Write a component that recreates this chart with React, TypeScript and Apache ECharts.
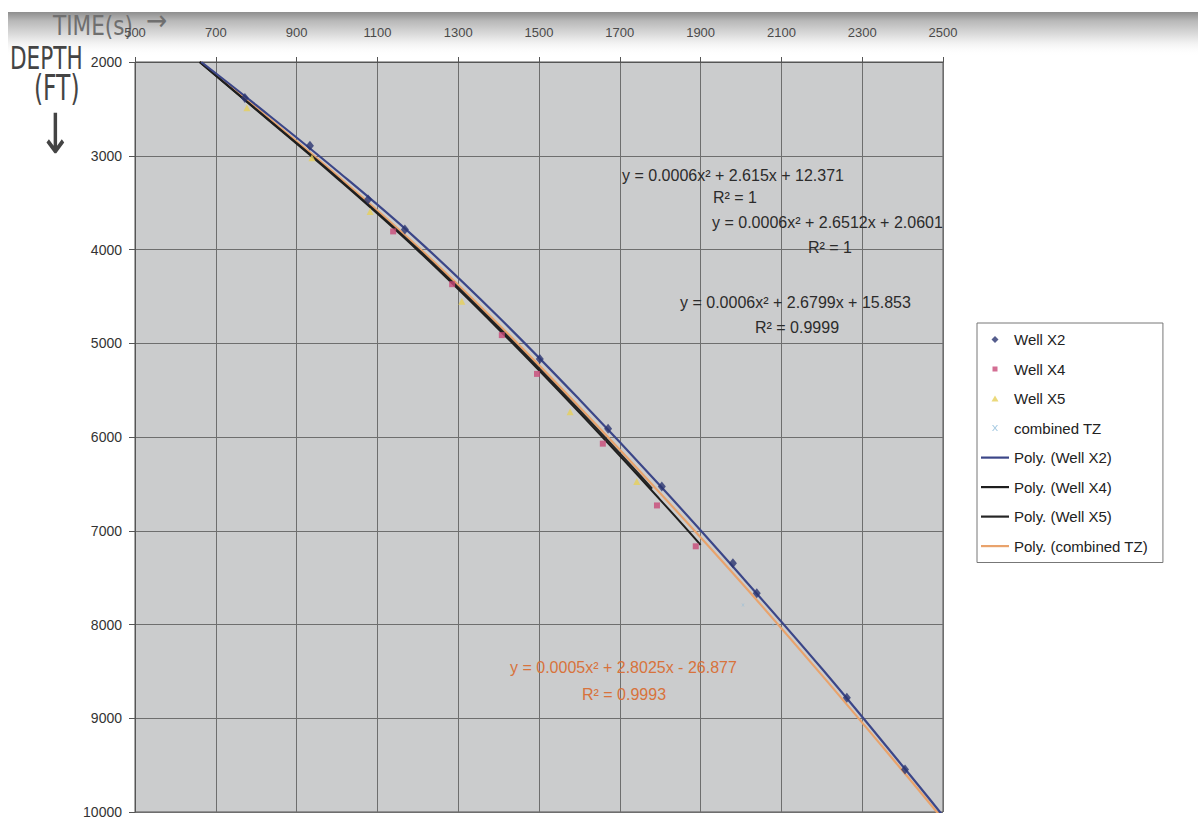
import React, { useEffect, useRef } from "react";
import * as echarts from "echarts";

// ---- data (time on x, depth in ft on y) ----
const xTicks = [500, 700, 900, 1100, 1300, 1500, 1700, 1900, 2100, 2300, 2500];
const yTicks = [2000, 3000, 4000, 5000, 6000, 7000, 8000, 9000, 10000];

const wellX2 = [
  [772, 2383], [933, 2893], [1077, 3467], [1168, 3786], [1502, 5168], [1671, 5912],
  [1804, 6528], [1980, 7347], [2039, 7666], [2262, 8782], [2406, 9547],
];
const wellX4 = [
  [1139, 3807], [1285, 4370], [1408, 4913], [1495, 5327], [1658, 6071], [1792, 6730], [1888, 7166],
];
const wellX5 = [
  [777, 2489], [938, 3020], [1082, 3594], [1309, 4551], [1577, 5731], [1742, 6475],
];
const combinedTZ = [
  [2005, 7793], [2079, 8006],
];

// trendlines
const polyX2 = [
  [664, 2000], [800, 2460], [1000, 3160], [1200, 3900], [1400, 4720], [1600, 5600],
  [1800, 6520], [2000, 7480], [2200, 8470], [2400, 9510], [2500, 10040],
];
const polyX4 = [
  [660, 2000], [800, 2510], [1000, 3240], [1200, 4010], [1400, 4850], [1600, 5740],
  [1800, 6670], [1900, 7150],
];
const polyX5 = [
  [660, 2000], [800, 2505], [1000, 3230], [1200, 3995], [1400, 4830], [1600, 5715], [1780, 6550],
];
const polyCombined = [
  [662, 2000], [800, 2490], [1000, 3210], [1200, 3970], [1400, 4800], [1600, 5680],
  [1800, 6600], [2000, 7550], [2200, 8540], [2400, 9560], [2500, 10080],
];

const equations = [
  { text: "y = 0.0006x² + 2.615x + 12.371", x: 622, y: 175, color: "#2b2b2b" },
  { text: "R² = 1", x: 713, y: 197, color: "#2b2b2b" },
  { text: "y = 0.0006x² + 2.6512x + 2.0601", x: 712, y: 222, color: "#2b2b2b" },
  { text: "R² = 1", x: 808, y: 247, color: "#2b2b2b" },
  { text: "y = 0.0006x² + 2.6799x + 15.853", x: 680, y: 302, color: "#2b2b2b" },
  { text: "R² = 0.9999", x: 755, y: 327, color: "#2b2b2b" },
  { text: "y = 0.0005x² + 2.8025x - 26.877", x: 510, y: 667, color: "#d8733c" },
  { text: "R² = 0.9993", x: 582, y: 694, color: "#d8733c" },
];

const FONT = "'Liberation Sans', Arial, sans-serif";
const HAND = "'DejaVu Sans Condensed', 'DejaVu Sans', sans-serif";

const lineIcon = "path://M0,0 M28,14 M0,6 L28,6 L28,8.2 L0,8.2 Z";
const diamondIcon = "path://M0,0 M28,14 M14,3.5 L17.5,7 L14,10.5 L10.5,7 Z";
const squareIcon = "path://M0,0 M28,14 M11.5,4.5 L16.5,4.5 L16.5,9.5 L11.5,9.5 Z";
const triIcon = "path://M0,0 M28,14 M14,4 L17.5,10 L10.5,10 Z";
const xIcon = "path://M0,0 M28,14 M11,4 L12.2,4 L17,10 L15.8,10 Z M15.8,4 L17,4 L12.2,10 L11,10 Z";

export default function App() {
  const ref = useRef<HTMLDivElement>(null);
  useEffect(() => {
    if (!ref.current) return;
    const chart = echarts.init(ref.current, undefined, { renderer: "svg" });
    const option: any = {
      animation: false,
      backgroundColor: "#ffffff",
      textStyle: { fontFamily: FONT },
      grid: { left: 135, right: 255, top: 62, bottom: 4, containLabel: false,
        show: true, backgroundColor: "#cbcccd", borderColor: "#555", borderWidth: 1 },
      xAxis: {
        type: "value", position: "top", min: 500, max: 2500, interval: 200,
        axisLine: { show: true, lineStyle: { color: "#555", width: 1 } },
        axisTick: { show: true, length: 5, lineStyle: { color: "#555" } },
        splitLine: { show: true, lineStyle: { color: "#6e6e6e", width: 1 } },
        axisLabel: { margin: 23, color: "#4a4a4a", fontSize: 13, fontFamily: FONT,
          formatter: (v: number) => (xTicks.includes(v) ? String(v) : "") },
      },
      yAxis: {
        type: "value", inverse: true, min: 2000, max: 10000, interval: 1000,
        axisLine: { show: true, lineStyle: { color: "#555", width: 1 } },
        axisTick: { show: true, length: 6, lineStyle: { color: "#555" } },
        splitLine: { show: true, lineStyle: { color: "#6e6e6e", width: 1 } },
        axisLabel: { margin: 13, color: "#333", fontSize: 14, fontFamily: FONT,
          formatter: (v: number) => (yTicks.includes(v) ? String(v) : "") },
      },
      legend: {
        orient: "vertical", left: 977, top: 323, itemWidth: 28, itemHeight: 14, itemGap: 14.5,
        backgroundColor: "#ffffff", borderColor: "#777", borderWidth: 1,
        padding: [9, 15, 9, 4],
        textStyle: { fontSize: 15, lineHeight: 15, color: "#222", fontFamily: FONT },
        data: [
          { name: "Well X2", icon: diamondIcon },
          { name: "Well X4", icon: squareIcon },
          { name: "Well X5", icon: triIcon },
          { name: "combined TZ", icon: xIcon },
          { name: "Poly. (Well X2)", icon: lineIcon },
          { name: "Poly. (Well X4)", icon: lineIcon },
          { name: "Poly. (Well X5)", icon: lineIcon },
          { name: "Poly. (combined TZ)", icon: lineIcon },
        ],
      },
      series: [
        { name: "Poly. (combined TZ)", type: "line", data: polyCombined, smooth: 0.4, symbol: "none",
          lineStyle: { color: "#e9a36c", width: 2.2 }, itemStyle: { color: "#e9a36c" }, z: 2 },
        { name: "Poly. (Well X5)", type: "line", data: polyX5, smooth: 0.4, symbol: "none",
          lineStyle: { color: "#262626", width: 2 }, itemStyle: { color: "#262626" }, z: 2 },
        { name: "Poly. (Well X4)", type: "line", data: polyX4, smooth: 0.4, symbol: "none",
          lineStyle: { color: "#1e1e1e", width: 2 }, itemStyle: { color: "#1e1e1e" }, z: 2 },
        { name: "Poly. (Well X2)", type: "line", data: polyX2, smooth: 0.4, symbol: "none",
          lineStyle: { color: "#3b4688", width: 2.2 }, itemStyle: { color: "#3b4688" }, z: 3 },
        { name: "Well X2", type: "scatter", data: wellX2, symbol: "diamond", symbolSize: [8, 10],
          itemStyle: { color: "#2a3470" }, z: 4 },
        { name: "Well X4", type: "scatter", data: wellX4, symbol: "rect", symbolSize: 6,
          itemStyle: { color: "#c84a78" }, z: 4 },
        { name: "Well X5", type: "scatter", data: wellX5, symbol: "triangle", symbolSize: 7,
          itemStyle: { color: "#e6cf5a" }, z: 4 },
        { name: "combined TZ", type: "scatter", data: combinedTZ, symbol: xIcon, symbolSize: [14, 7],
          itemStyle: { color: "#8fbcd9" }, z: 4 },
      ],
      graphic: [
        { type: "rect", z: -10, silent: true, shape: { x: 8, y: 12, width: 1190, height: 44 },
          style: { fill: new echarts.graphic.LinearGradient(0, 0, 0, 1, [
            { offset: 0, color: "#8e8e8e" }, { offset: 0.2, color: "#b8b8b8" },
            { offset: 0.6, color: "#e6e6e6" }, { offset: 1, color: "rgba(255,255,255,0)" }]) } },
        { type: "text", x: 53, y: 13, scaleY: 1.1, style: { text: "TIME(s)", fill: "#6f6f6f",
          font: `24px ${HAND}` } },
        { type: "text", x: 146, y: 6, style: { text: "→", fill: "#6f6f6f", font: `28px ${HAND}` } },
        { type: "text", x: 10, y: 42, scaleY: 1.35, style: { text: "DEPTH", fill: "#444", font: `24px ${HAND}` } },
        { type: "text", x: 34, y: 70, scaleY: 1.35, style: { text: "(FT)", fill: "#444", font: `26px ${HAND}` } },
        { type: "text", x: 38, y: 106, scaleY: 1.2, style: { text: "↓", fill: "#444", font: `46px ${HAND}` } },
        ...equations.map((e) => ({
          type: "text", x: e.x, y: e.y, z: 10,
          style: { text: e.text, fill: e.color, font: `16px ${FONT}`, textVerticalAlign: "middle" },
        })),
      ],
    };
    chart.setOption(option);
    return () => chart.dispose();
  }, []);
  return (
    <div ref={ref} style={{ position: "fixed", left: 0, top: 0, width: 1198, height: 819 }} />
  );
}
